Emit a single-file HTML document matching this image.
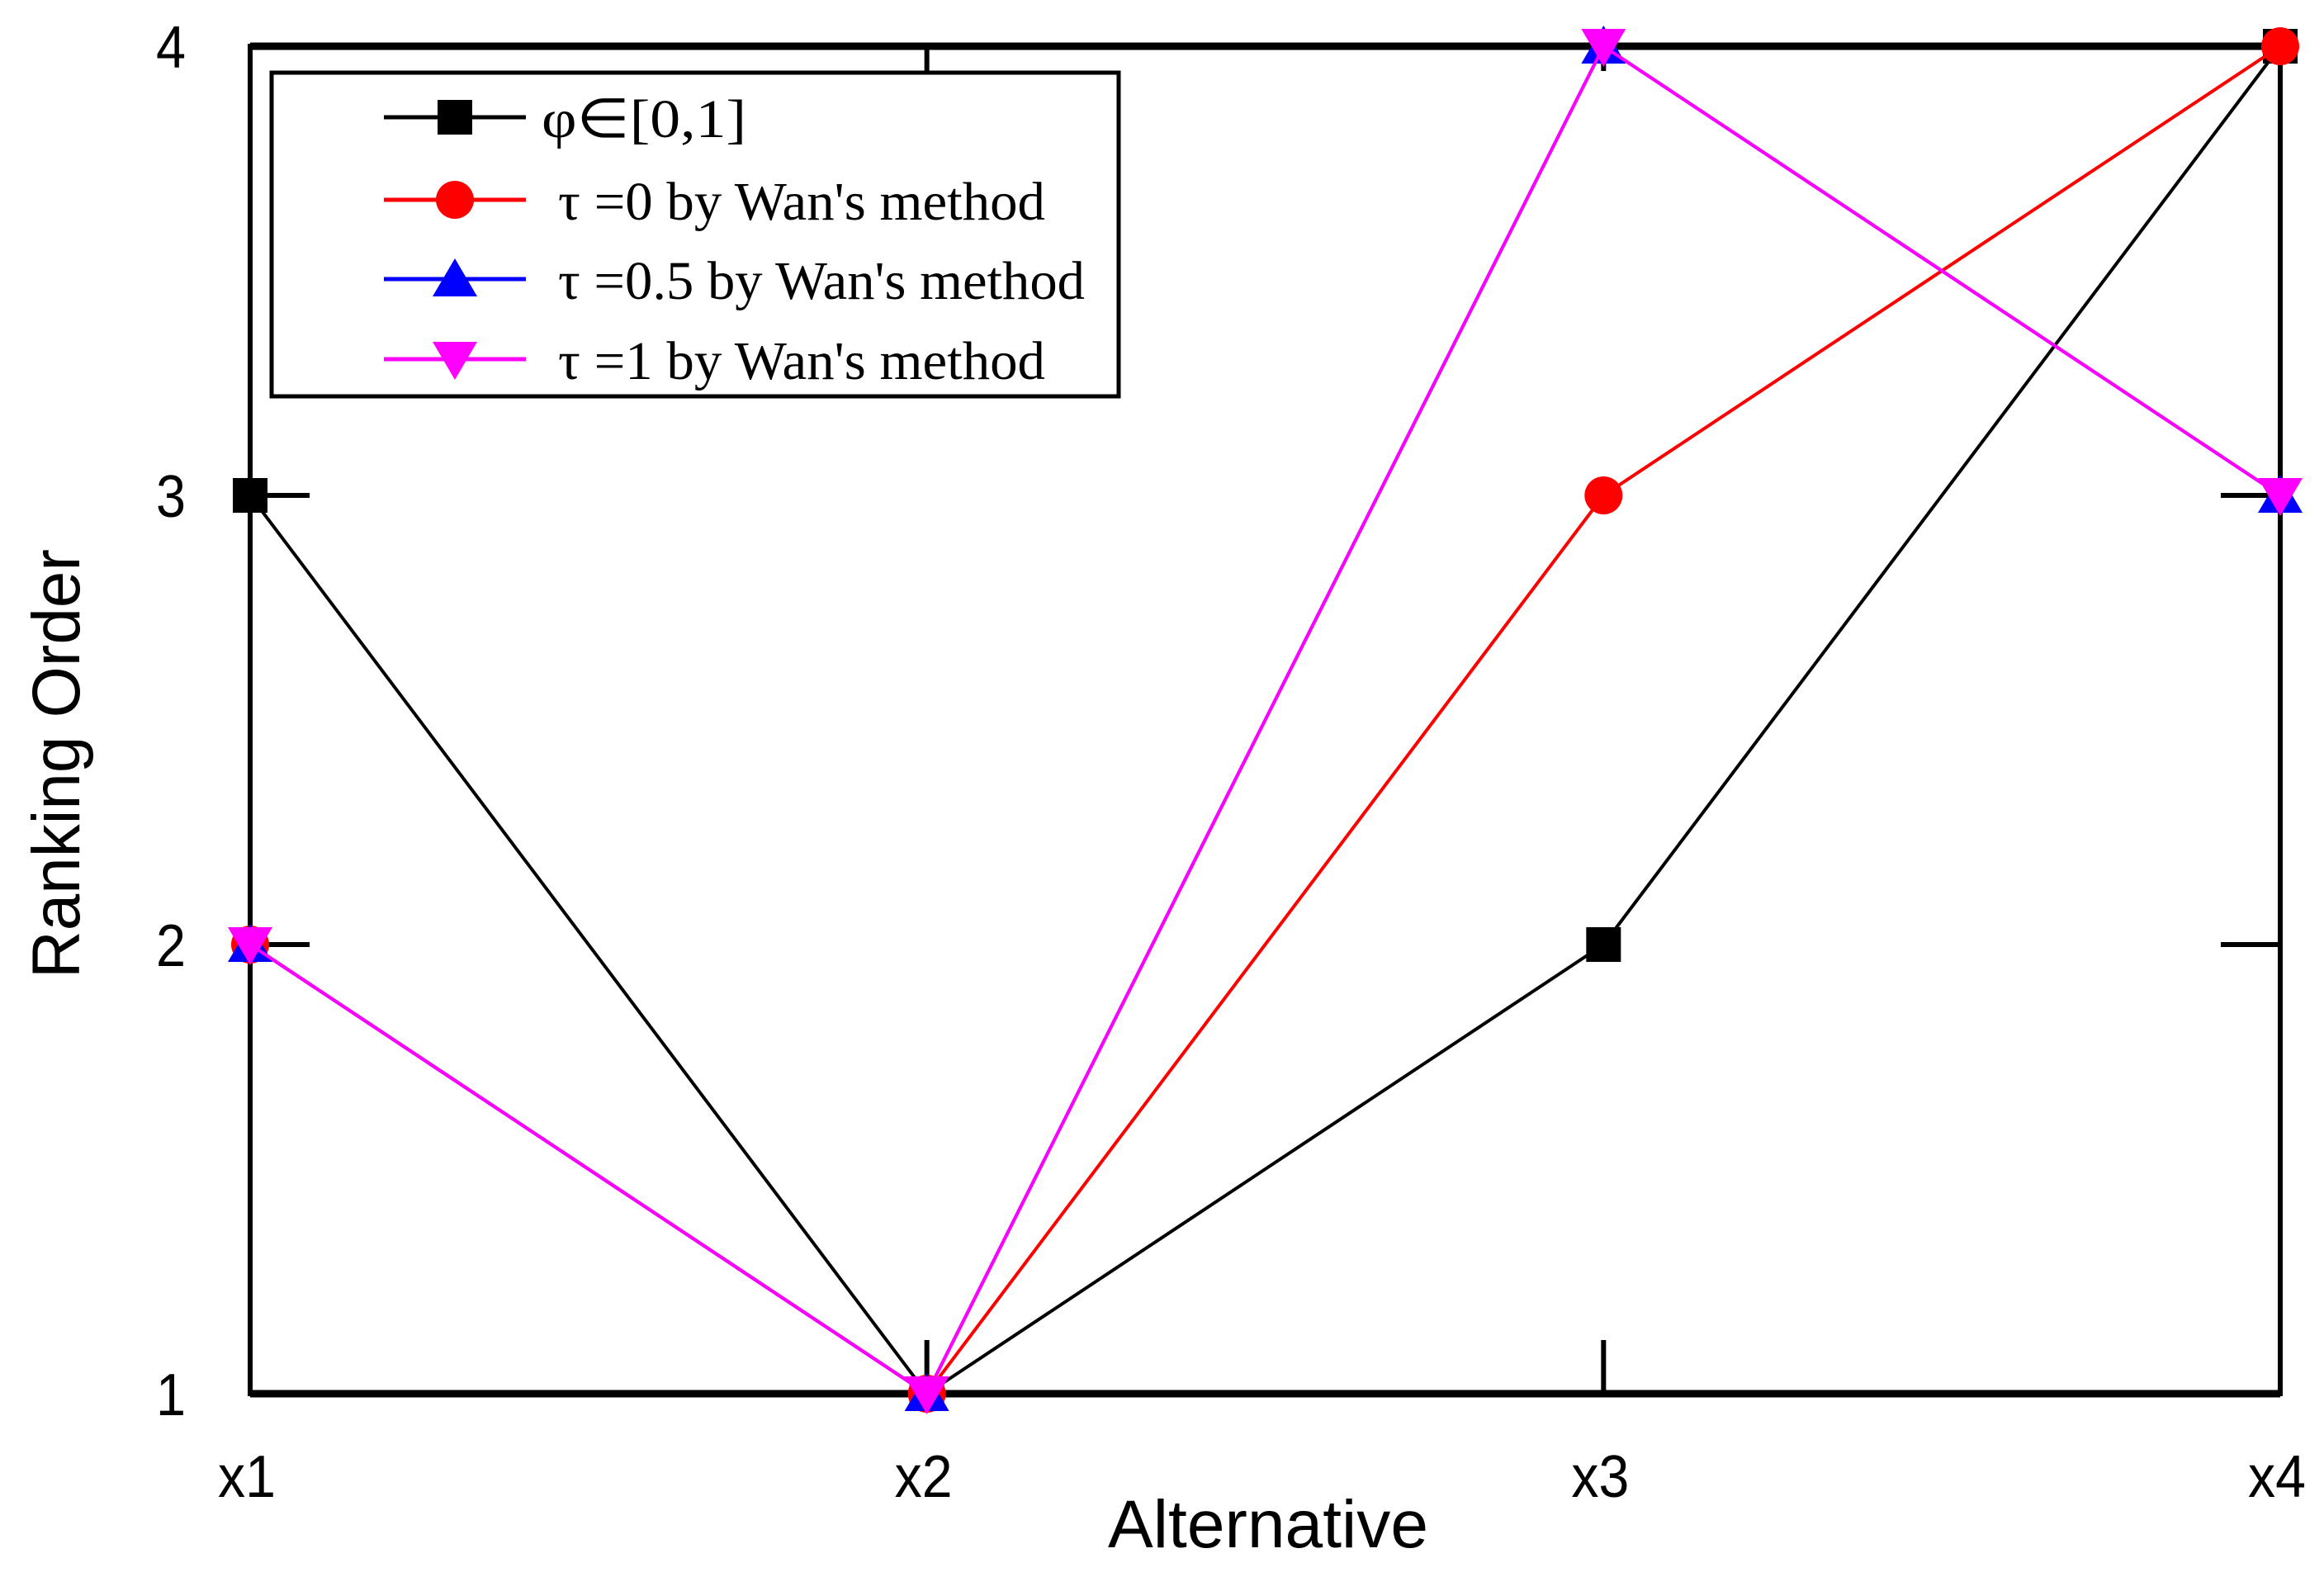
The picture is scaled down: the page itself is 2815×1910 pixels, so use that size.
<!DOCTYPE html>
<html><head><meta charset="utf-8"><style>html,body{margin:0;padding:0;background:#fff}svg{display:block}</style></head>
<body>
<svg id="chart" width="2815" height="1910" viewBox="0 0 2815 1910" xmlns="http://www.w3.org/2000/svg">
<rect width="2815" height="1910" fill="#fff"/>
<g id="axes"></g>
<g id="series"></g>
<g id="legend"></g>
</svg>
<script>
const categories = ["x1","x2","x3","x4"];
const yTicks = [1,2,3,4];
const seriesNames = ["φ∈[0,1]","τ =0 by Wan's method","τ =0.5 by Wan's method","τ =1 by Wan's method"];
const blackValues = [3,1,2,4];
const redValues = [2,1,3,4];
const blueValues = [2,1,4,3];
const magentaValues = [2,1,4,3];

const NS="http://www.w3.org/2000/svg";
const L=303,R=2762,T=56,B=1688;
const xS=i=>L+(R-L)*i/(categories.length-1);
const yS=v=>B-(B-T)*(v-1)/3;
function mk(tag,attrs,parent){const e=document.createElementNS(NS,tag);for(const k in attrs)e.setAttribute(k,attrs[k]);parent.appendChild(e);return e;}
const axes=document.getElementById('axes'),ser=document.getElementById('series'),leg=document.getElementById('legend');

let f=mk('rect',{x:L,y:T,width:R-L,height:B-T,fill:'none',stroke:'#000','stroke-width':6},axes);

let tb=mk('line',{x1:L,y1:T,x2:R,y2:T,stroke:'#000','stroke-width':9},axes);

let bb=mk('line',{x1:L,y1:B,x2:R,y2:B,stroke:'#000','stroke-width':9},axes);

categories.forEach((c,i)=>{
  const x=xS(i);
  if(i>0&&i<categories.length-1){
    let t=mk('line',{x1:x,y1:B,x2:x,y2:B-65,stroke:'#000','stroke-width':6},axes);
    
    let t2=mk('line',{x1:x,y1:T,x2:x,y2:T+30,stroke:'#000','stroke-width':6},axes);
    
  }
  let tx=mk('text',{x:x-4,y:1813,'text-anchor':'middle','font-family':'Liberation Sans, sans-serif','font-size':72,textLength:70,lengthAdjust:'spacingAndGlyphs'},axes);
  tx.textContent=c;
});
yTicks.forEach(v=>{
  const y=yS(v);
  if(v>1&&v<4){
    let a=mk('line',{x1:L,y1:y,x2:L+72,y2:y,stroke:'#000','stroke-width':6},axes);
    
    let b=mk('line',{x1:R,y1:y,x2:R-72,y2:y,stroke:'#000','stroke-width':6},axes);
    
  }
  let tx=mk('text',{x:207,y:y+26,'text-anchor':'middle','font-family':'Liberation Sans, sans-serif','font-size':72,textLength:36,lengthAdjust:'spacingAndGlyphs'},axes);
  tx.textContent=v;
});
let xt=mk('text',{x:1536,y:1874,'text-anchor':'middle','font-family':'Liberation Sans, sans-serif','font-size':82,textLength:388,lengthAdjust:'spacingAndGlyphs'},axes);
xt.textContent='Alternative';
let yt=mk('text',{x:0,y:0,'text-anchor':'middle','font-family':'Liberation Sans, sans-serif','font-size':82,textLength:520,lengthAdjust:'spacingAndGlyphs',transform:'translate(96,925) rotate(-90)'},axes);
yt.textContent='Ranking Order';

function marker(type,cx,cy,color,parent){
  const s=21;let e;
  if(type==='square')e=mk('rect',{x:cx-s,y:cy-s,width:2*s,height:2*s,fill:color},parent);
  else if(type==='circle')e=mk('circle',{cx:cx,cy:cy,r:s+2,fill:color},parent);
  else if(type==='up')e=mk('polygon',{points:`${cx},${cy-s-4} ${cx-s-6},${cy+s} ${cx+s+6},${cy+s}`,fill:color},parent);
  else e=mk('polygon',{points:`${cx},${cy+s+4} ${cx-s-6},${cy-s} ${cx+s+6},${cy-s}`,fill:color},parent);
  return e;
}
const S=[[blackValues,'#000','square'],[redValues,'#ff0000','circle'],[blueValues,'#0000ff','up'],[magentaValues,'#ff00ff','down']];
const snames=['series-phi','series-tau0','series-tau05','series-tau1'];
S.forEach(([vals,col,m],k)=>{
  const g=mk('g',{},ser);
  let pl=mk('polyline',{points:vals.map((v,i)=>xS(i)+','+yS(v)).join(' '),fill:'none',stroke:col,'stroke-width':4},g);
  
  vals.forEach((v,i)=>{let e=marker(m,xS(i),yS(v),col,g);});
});
let lb=mk('rect',{x:329,y:88,width:1026,height:392,fill:'#fff',stroke:'#000','stroke-width':5},leg);

const rowsY=[142,242,338,435];
S.forEach(([vals,col,m],k)=>{
  const g=mk('g',{},leg);
  mk('line',{x1:465,y1:rowsY[k],x2:637,y2:rowsY[k],stroke:col,'stroke-width':5},g);
  marker(m,551,rowsY[k],col,g);
  const lens=[248,590,638,590];
  let t=mk('text',{x:k?676:656,y:rowsY[k]+24,'font-family':'Liberation Serif, serif','font-size':66,textLength:lens[k],lengthAdjust:'spacingAndGlyphs'},g);
  t.textContent=seriesNames[k];
});
</script>
</body></html>
